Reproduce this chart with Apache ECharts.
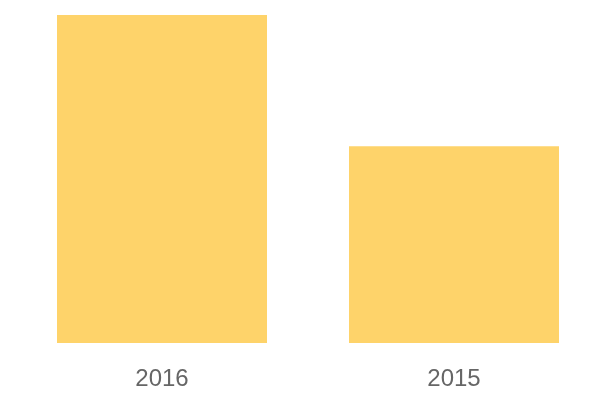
<!DOCTYPE html>
<html><head><meta charset="utf-8">
<script src="https://cdn.jsdelivr.net/npm/echarts@6/dist/echarts.min.js"></script>
<style>html,body{margin:0;padding:0;background:#fff}#c{width:600px;height:400px}</style>
</head><body><div id="c"></div>
<script>
var categories = ['2016', '2015'];
var values = [100, 60];
var chart = echarts.init(document.getElementById('c'), null, {renderer: 'canvas'});
chart.setOption({
  animation: false,
  grid: {left: 16, right: 0, top: 15, bottom: 57, containLabel: false},
  xAxis: {
    type: 'category', data: categories,
    axisLine: {show: false}, axisTick: {show: false},
    axisLabel: {color: '#666', fontSize: 24, fontFamily: 'Liberation Sans', margin: 24}
  },
  yAxis: {type: 'value', min: 0, max: 100, show: false, splitLine: {show: false}},
  series: [{
    type: 'bar', data: values, barWidth: 210,
    itemStyle: {color: '#FED36A'}
  }]
});
</script></body></html>
